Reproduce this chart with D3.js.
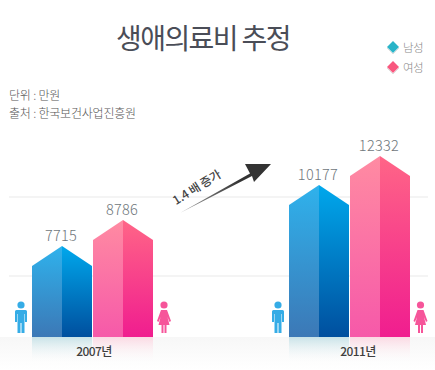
<!DOCTYPE html>
<html>
<head>
<meta charset="utf-8">
<script src="https://cdn.jsdelivr.net/npm/d3@7"></script>
<style>
  html, body { margin: 0; padding: 0; background: #fff; }
  svg { display: block; }
  text { font-family: "Noto Sans CJK KR", "Noto Sans", sans-serif; }
</style>
</head>
<body>
<div id="chart"></div>
<script>
const years = ["2007년", "2011년"]
const maleValues = [7715, 10177]
const femaleValues = [8786, 12332]
const legendLabels = ["남성", "여성"]
const noteLines = ["단위 : 만원", "출처 : 한국보건사업진흥원"]
const titleText = "생애의료비 추정"
const arrowLabel = "1.4 배 증가"

const width = 435, height = 370
const baseY = 337, barWidth = 60, gap = 1, shoulder = 20

// the bars in the picture are not to scale, so the scale has one stop per value
const y = d3.scaleLinear()
    .domain([7715, 8786, 10177, 12332])
    .range([246, 220, 185, 156])
const x = d3.scalePoint().domain(years).range([92.5, 349.5])
const labelX = d3.scalePoint().domain(years).range([94, 358])

const svg = d3.select('#chart').append('svg')
    .attr('width', width)
    .attr('height', height)
const defs = svg.append('defs')

function addGradient(id, top, bottom, coords) {
    const c = coords || {x1: 0, y1: 0, x2: 0, y2: 1}
    const g = defs.append('linearGradient').attr('id', id)
        .attr('x1', c.x1).attr('y1', c.y1).attr('x2', c.x2).attr('y2', c.y2)
    g.append('stop').attr('offset', 0).attr('stop-color', top[0]).attr('stop-opacity', top[1])
    g.append('stop').attr('offset', 1).attr('stop-color', bottom[0]).attr('stop-opacity', bottom[1])
}
addGradient('maleL', ['#2fb2ec', 1], ['#3c78b6', 1])
addGradient('maleR', ['#00a8ec', 1], ['#004f9e', 1])
addGradient('femaleL', ['#ff8ba2', 1], ['#f659a9', 1])
addGradient('femaleR', ['#ff6587', 1], ['#f01d8f', 1])
addGradient('floor', ['#f7f7f7', 1], ['#ffffff', 1])
addGradient('maleRef', ['#c3e0e6', 0.9], ['#ffffff', 0])
addGradient('femaleRef', ['#fbd6e1', 0.9], ['#ffffff', 0])
addGradient('arrowFill', ['#a0a0a0', 1], ['#333333', 1], {x1: 0, y1: 1, x2: 0.6, y2: 0.3})

// floor band and grid lines
svg.append('rect').attr('x', 0).attr('y', baseY).attr('width', width).attr('height', 33)
    .attr('fill', 'url(#floor)')
svg.selectAll('line.grid').data([197, 276]).join('line')
    .attr('class', 'grid')
    .attr('x1', 9).attr('x2', 428)
    .attr('y1', d => d).attr('y2', d => d)
    .attr('stroke', '#e9e9e9')

svg.append('text')
    .attr('x', 203).attr('y', 49)
    .attr('text-anchor', 'middle')
    .attr('font-size', 28)
    .attr('font-weight', 400)
    .attr('letter-spacing', -1.6)
    .attr('fill', '#4a4d57')
    .text(titleText)

svg.selectAll('text.note').data(noteLines).join('text')
    .attr('class', 'note')
    .attr('x', 9)
    .attr('y', (d, i) => 100 + i * 18)
    .attr('font-size', 12)
    .attr('font-weight', 300)
    .attr('letter-spacing', -0.2)
    .attr('fill', '#555')
    .text(d => d)

// legend
const legend = svg.selectAll('g.legend').data(legendLabels).join('g')
    .attr('class', 'legend')
    .attr('transform', (d, i) => `translate(393,${47 + i * 20})`)
legend.append('path')
    .attr('d', 'M-6,1L0,7L6,1')
    .attr('fill', 'none').attr('stroke', '#ddd')
legend.append('path')
    .attr('d', 'M0,-6L6,0L0,6L-6,0Z')
    .attr('fill', (d, i) => i ? '#f8587f' : '#2ab4c8')
legend.append('text')
    .attr('x', 10).attr('y', 5)
    .attr('font-size', 11.5)
    .attr('font-weight', 300)
    .attr('letter-spacing', -0.5)
    .attr('fill', '#888')
    .text(d => d)

function drawBar(parent, year, value, left, kind) {
    const top = y(value), mid = left + barWidth / 2, right = left + barWidth
    parent.append('rect')
        .attr('x', left).attr('y', baseY)
        .attr('width', barWidth).attr('height', 27)
        .attr('fill', `url(#${kind}Ref)`)
    parent.append('path')
        .attr('d', `M${left},${baseY}V${top + shoulder}L${mid},${top}V${baseY}Z`)
        .attr('fill', `url(#${kind}L)`)
    parent.append('path')
        .attr('d', `M${mid},${baseY}V${top}L${right},${top + shoulder}V${baseY}Z`)
        .attr('fill', `url(#${kind}R)`)
    parent.append('text')
        .attr('x', mid - 1)
        .attr('y', top - 5.5)
        .attr('text-anchor', 'middle')
        .attr('font-family', '"Noto Sans"')
        .attr('font-size', 14.5)
        .attr('font-weight', 300)
        .attr('letter-spacing', 0.3)
        .attr('fill', '#6f777c')
        .text(value)
}

function drawPerson(cx, kind) {
    const g = svg.append('g').attr('transform', `translate(${cx},301)`)
    const fill = kind === 'male' ? '#35ace6' : '#f6559a'
    g.append('circle').attr('cx', 0).attr('cy', 4).attr('r', 3.6).attr('fill', fill)
    const body = kind === 'male'
        ? 'M-4.5,9H4.5Q6,9 6,10.5V21H4V13H3.5V32H0.5V22H-0.5V32H-3.5V13H-4V21H-6V10.5Q-6,9 -4.5,9Z'
        : 'M-3,9H3L7,20L5.5,21L3.5,16L5.5,24H2.5V32H0.5V24H-0.5V32H-2.5V24H-5.5L-3.5,16L-5.5,21L-7,20Z'
    g.append('path').attr('d', body).attr('fill', fill)
}

years.forEach((year, i) => {
    const c = x(year)
    const g = svg.append('g').attr('class', 'year')
    drawBar(g, year, maleValues[i], c - barWidth - gap / 2, 'male')
    drawBar(g, year, femaleValues[i], c + gap / 2, 'female')
    g.append('text')
        .attr('x', labelX(year)).attr('y', 356)
        .attr('text-anchor', 'middle')
        .attr('font-size', 12)
        .attr('font-weight', 500)
        .attr('letter-spacing', -0.6)
        .attr('fill', '#3f3f3f')
        .text(year)
})
drawPerson(21, 'male')
drawPerson(164, 'female')
drawPerson(278, 'male')
drawPerson(420.5, 'female')

// growth arrow
svg.append('path')
    .attr('d', 'M180,213L250,173.5L245,164L271,164L254,182L252,176Z')
    .attr('fill', 'url(#arrowFill)')
svg.append('text')
    .attr('transform', 'translate(199,191) rotate(-32)')
    .attr('text-anchor', 'middle')
    .attr('font-size', 12)
    .attr('font-weight', 500)
    .attr('letter-spacing', -0.2)
    .attr('fill', '#444')
    .text(arrowLabel)
</script>
</body>
</html>
